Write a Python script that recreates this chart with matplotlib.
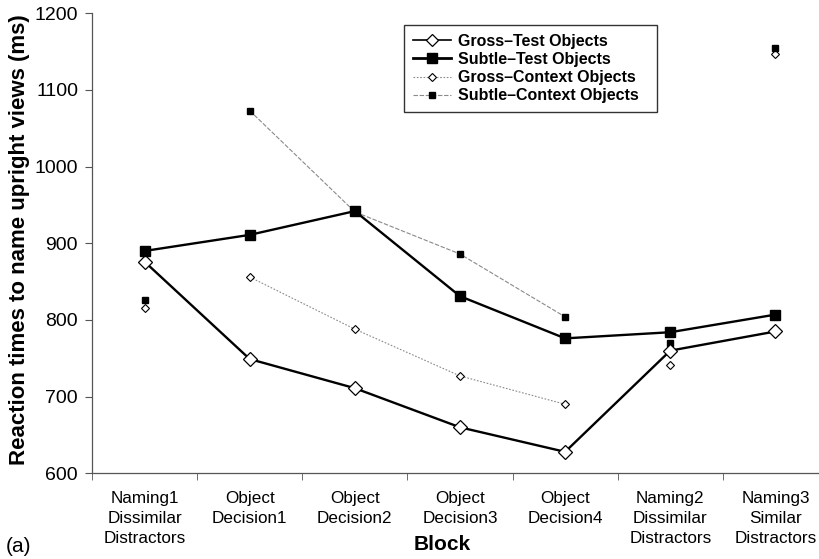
import matplotlib
matplotlib.use("Agg")
import matplotlib.pyplot as plt

plt.rcParams['font.family'] = ['Liberation Sans', 'DejaVu Sans']

blocks = ["Naming1\nDissimilar\nDistractors", "Object\nDecision1", "Object\nDecision2",
          "Object\nDecision3", "Object\nDecision4", "Naming2\nDissimilar\nDistractors",
          "Naming3\nSimilar\nDistractors"]

gross_test = [876, 749, 711, 660, 628, 760, 785]
subtle_test = [890, 911, 942, 831, 776, 784, 807]
gross_context = [815, 856, 788, 727, 690, 741, 1147]
subtle_context = [826, 1073, 941, 886, 804, 770, 1155]

# object-decision blocks are joined by the context lines; naming blocks stand alone
od_idx = [1, 2, 3, 4]

GRAY = '#8a8a8a'
GC_LS = (0, (1.5, 1.5))
SC_LS = (0, (4, 1.5))

fig = plt.figure(figsize=(8.19, 5.59), dpi=100)
ax = fig.add_axes([92 / 819, 85.7 / 559, 736 / 819, 460 / 559])

x = list(range(len(blocks)))

ax.plot([x[i] for i in od_idx], [gross_context[i] for i in od_idx],
        color=GRAY, lw=0.8, ls=GC_LS, zorder=2)
ax.plot(x, gross_context, ls='none', marker='D', ms=3.6, mfc='white',
        mec='black', mew=0.8, zorder=3)

ax.plot([x[i] for i in od_idx], [subtle_context[i] for i in od_idx],
        color=GRAY, lw=0.8, ls=SC_LS, zorder=2)
ax.plot(x, subtle_context, ls='none', marker='s', ms=4.4, mfc='black',
        mec='black', zorder=3)

ax.plot(x, gross_test, color='black', lw=1.7, marker='D', ms=7.5,
        mfc='white', mec='black', mew=0.9, zorder=4)
ax.plot(x, subtle_test, color='black', lw=1.7, marker='s', ms=7.8,
        mfc='black', mec='black', zorder=5)

# legend proxies
h1, = ax.plot([], [], color='black', lw=1.2, marker='D', ms=6.5, mfc='white', mec='black', mew=0.9)
h2, = ax.plot([], [], color='black', lw=2, marker='s', ms=7.5, mfc='black', mec='black')
h3, = ax.plot([], [], color=GRAY, lw=0.8, ls=GC_LS, marker='D', ms=3.6,
              mfc='white', mec='black', mew=0.8)
h4, = ax.plot([], [], color=GRAY, lw=0.8, ls=SC_LS, marker='s', ms=4.4,
              mfc='black', mec='black')
leg = ax.legend([h1, h2, h3, h4],
                ["Gross\u2013Test Objects", "Subtle\u2013Test Objects",
                 "Gross\u2013Context Objects", "Subtle\u2013Context Objects"],
                loc='upper left', bbox_to_anchor=((404 - 92) / 736, (473.3 - 25) / 460),
                prop={'weight': 'bold', 'size': 11.5}, frameon=False,
                handlelength=2.4, handletextpad=0.45,
                labelspacing=0.2, borderpad=0.55, borderaxespad=0)

ax.set_xlim(-0.5, len(blocks) - 0.5)
ax.set_ylim(600, 1200)
ax.set_yticks(range(600, 1201, 100))
ax.set_xticks(x)
ax.set_xticklabels(blocks, fontsize=12.3, linespacing=1.42)
ax.tick_params(axis='x', length=0, pad=13)
ax.set_xticks([i - 0.5 for i in range(len(blocks) + 1)], minor=True)
ax.tick_params(axis='x', which='minor', length=5, direction='out', color='#555555')
ax.tick_params(axis='y', labelsize=14, length=5, direction='out', color='#555555', pad=5)

for s in ['top', 'right']:
    ax.spines[s].set_visible(False)
for s in ['left', 'bottom']:
    ax.spines[s].set_color('#555555')
    ax.spines[s].set_linewidth(0.9)

# legend frame: a little extra room on the right of the entries
fig.canvas.draw()
bb = leg.get_window_extent().transformed(fig.transFigure.inverted())
extra = 9 / 819
frame = plt.Rectangle((bb.x0, bb.y0), bb.width + extra, bb.height,
                      transform=fig.transFigure, fill=True, facecolor='white',
                      edgecolor='#333333', lw=1.0, zorder=6)
ax.add_artist(frame)
frame.set_clip_on(False)
leg.set_zorder(7)

fig.text(20 / 819, 1 - 240 / 559, "Reaction times to name upright views (ms)",
         rotation=90, ha='center', va='center', fontsize=16, fontweight='bold')
fig.text(442 / 819, 1 - 545 / 559, "Block", ha='center', va='center',
         fontsize=15, fontweight='bold')
fig.text(6 / 819, 1 - 547 / 559, "(a)", ha='left', va='center', fontsize=15)

fig.savefig("out.png", dpi=100)
